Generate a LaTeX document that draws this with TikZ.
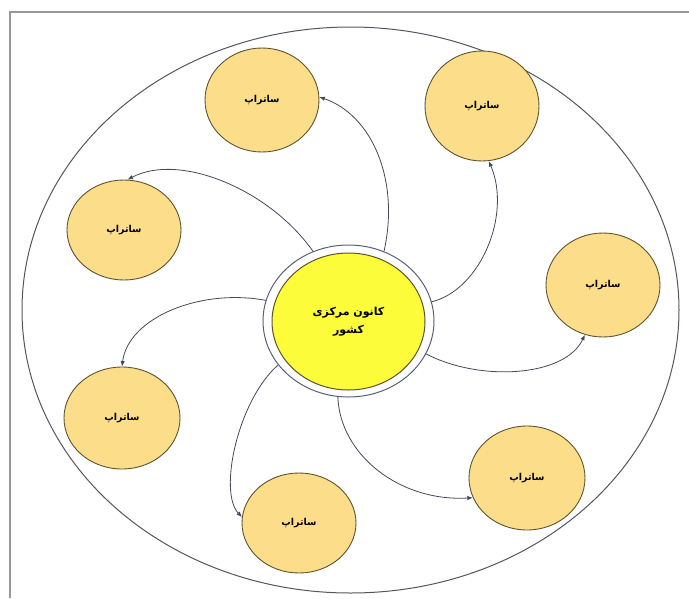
\documentclass[tikz,border=0pt]{standalone}
\usepackage{fontspec}
\newfontfamily\fa[Script=Arabic]{DejaVu Sans}
\TeXXeTstate=1
\usetikzlibrary{shapes.geometric,arrows.meta}
\definecolor{satfill}{HTML}{FBDD8A}
\definecolor{satline}{HTML}{5E5230}
\definecolor{cfill}{HTML}{FCFC3A}
\definecolor{ringline}{HTML}{5A5F78}
\definecolor{arrline}{HTML}{454858}
\definecolor{framegray}{HTML}{989898}
\definecolor{bigline}{HTML}{55555E}
\begin{document}
\begin{tikzpicture}[x=1pt,y=-1pt,
  satrap/.style={ellipse, draw=satline, fill=satfill, line width=0.9pt,
    minimum width=114pt, minimum height=104pt, inner sep=0pt,
    font=\fa\bfseries\fontsize{9.5}{11}\selectfont},
  conn/.style={draw=arrline, line width=0.8pt, -{Latex[length=5.5pt,width=4.5pt]}}]
\useasboundingbox (0,0) rectangle (689,598);
\draw[framegray, line width=2pt] (10,598) -- (10,12) -- (689,12);
\node[ellipse, draw=bigline, line width=1pt, minimum width=657pt, minimum height=566pt, inner sep=0pt] (boundary) at (350.5,310) {};
\node[ellipse, draw=ringline, line width=1pt, minimum width=171pt, minimum height=152pt, inner sep=0pt] (ring) at (348.5,321) {};
\node[ellipse, draw=satline, fill=cfill, line width=1pt, minimum width=153pt, minimum height=137pt, inner sep=0pt, align=center,
  font=\fa\bfseries\fontsize{11}{18}\selectfont] (c) at (348.5,321.5) {\beginR کانون مرکزی\endR\\\beginR کشور\endR};
\node[satrap] (s1) at (262,100) {\beginR ساتراپ\endR};
\node[satrap, minimum height=110pt] (s2) at (482,106) {\beginR ساتراپ\endR};
\node[satrap, minimum height=100pt] (s3) at (124,230) {\beginR ساتراپ\endR};
\node[satrap] (s4) at (603,285) {\beginR ساتراپ\endR};
\node[satrap, minimum width=116pt, minimum height=102pt] (s5) at (122,418) {\beginR ساتراپ\endR};
\node[satrap, minimum height=100pt] (s6) at (299,523) {\beginR ساتراپ\endR};
\node[satrap, minimum width=116pt] (s7) at (527,478) {\beginR ساتراپ\endR};
\draw[conn] (ring.63) .. controls (400,180) and (372,115) .. (s1.3);
\draw[conn] (ring.13) .. controls (480,290) and (512,215) .. (s2.277);
\draw[conn] (ring.117) .. controls (270,190) and (180,152) .. (s3.86);
\draw[conn] (ring.166) .. controls (200,288) and (128,318) .. (s5.90);
\draw[conn] (ring.212) .. controls (238,400) and (218,492) .. (s6.174);
\draw[conn] (ring.262) .. controls (340,455) and (400,502) .. (s7.200);
\draw[conn] (ring.337) .. controls (480,382) and (565,377) .. (s4.250);
\end{tikzpicture}
\end{document}
